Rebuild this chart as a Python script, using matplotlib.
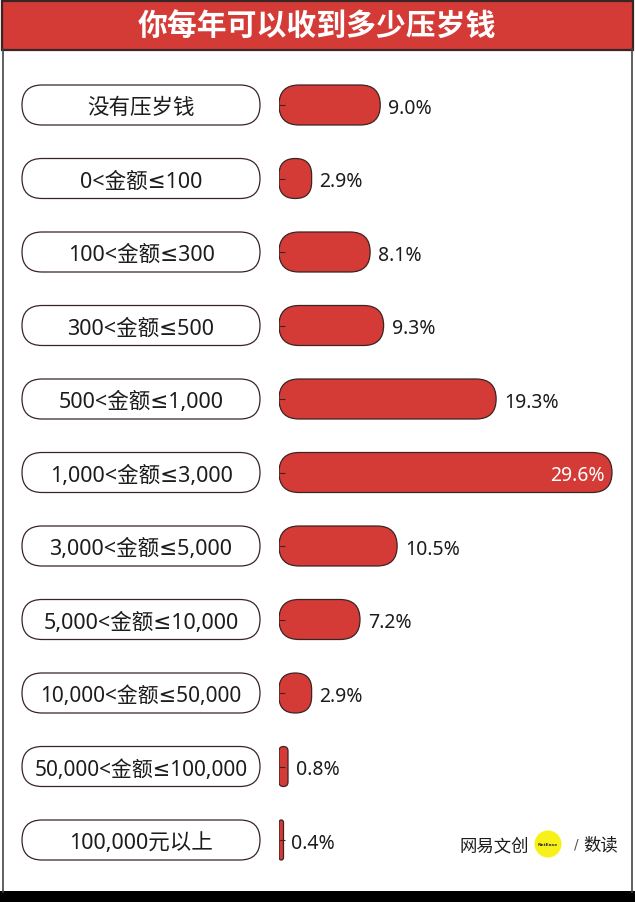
import matplotlib
matplotlib.use('Agg')
import matplotlib.pyplot as plt
from matplotlib.patches import FancyBboxPatch, Rectangle, Circle

plt.rcParams['font.family'] = ['Noto Sans', 'DejaVu Sans', 'Noto Sans CJK SC']

title = "你每年可以收到多少压岁钱"
categories = ["没有压岁钱", "0<金额≤100", "100<金额≤300", "300<金额≤500",
              "500<金额≤1,000", "1,000<金额≤3,000", "3,000<金额≤5,000",
              "5,000<金额≤10,000", "10,000<金额≤50,000", "50,000<金额≤100,000",
              "100,000元以上"]
values = [9.0, 2.9, 8.1, 9.3, 19.3, 29.6, 10.5, 7.2, 2.9, 0.8, 0.4]

RED = "#d43b36"
EDGE = "#3a2424"
TXT = "#1c1c1c"
CJK = ['Noto Sans CJK SC', 'DejaVu Sans']

W, H = 635, 903
fig = plt.figure(figsize=(W / 100, H / 100), dpi=100)
fig.patch.set_facecolor("white")

# background / decoration axes in pixel coordinates
bg = fig.add_axes([0, 0, 1, 1])
bg.set_xlim(0, W)
bg.set_ylim(H, 0)
bg.axis('off')
bg.plot([2.5, 2.5], [50, 893], color="#444444", lw=1.2)
bg.plot([632, 632], [50, 893], color="#444444", lw=1.2)
bg.add_patch(Rectangle((1.5, 1.5), 631, 49.5, facecolor=RED, edgecolor=EDGE, lw=1.6))
bg.add_patch(Rectangle((0, 892), W, 11, facecolor="black", edgecolor="none"))
bg.text(317, 27, title, color="white", fontsize=21.5, fontweight="heavy",
        ha="center", va="center", family=CJK)

# logo
bg.text(494, 846, "网易文创", fontsize=12.5, color=TXT, ha="center", va="center", family=CJK)
bg.add_patch(Circle((548, 845), 13.5, facecolor="#f7f019", edgecolor="none"))
bg.text(548, 845, "NetEase", fontsize=3.2, color="#333333", ha="center", va="center",
        family=["DejaVu Sans"], fontweight="bold")
bg.text(576, 845, "/", fontsize=10, color="#555555", ha="center", va="center",
        family=["DejaVu Sans"])
bg.text(601, 845, "数读", fontsize=12.5, color=TXT, ha="center", va="center", family=CJK)

n = len(categories)
ROW = 73.5
TOP = 106 - ROW / 2
PXPU = 11.25          # pixels per percent
X0 = 279
XMAX = 30

# bars axes
ax = fig.add_axes([X0 / W, 1 - (TOP + n * ROW) / H, XMAX * PXPU / W, n * ROW / H])
ax.set_xlim(0, XMAX)
ax.set_ylim(n - 0.5, -0.5)
ax.set_facecolor("none")
for s in ax.spines.values():
    s.set_visible(False)
ax.set_xticks([])
ax.set_yticks(range(n))
ax.set_yticklabels([])
ax.tick_params(axis='y', direction='in', length=4.5, width=0.8, color=EDGE)

bh = 40 / ROW
aspect = PXPU / ROW
vmax = max(values)
for i, v in enumerate(values):
    wpx = v * PXPU
    r = min(20, wpx / 2)
    ax.add_patch(FancyBboxPatch((0, i - bh / 2), v, bh,
                                boxstyle=f"round,pad=0,rounding_size={r / PXPU}",
                                mutation_aspect=aspect, facecolor=RED,
                                edgecolor=EDGE, lw=0.9, zorder=1))
    if v == vmax:
        ax.text(v - 7 / PXPU, i + 0.04, f"{v:.1f}%", color="white", fontsize=14,
                ha="right", va="center", zorder=3)
    else:
        ax.text(v + 8 / PXPU, i + 0.04, f"{v:.1f}%", color=TXT, fontsize=14,
                ha="left", va="center", zorder=3)

# label pills axes
LX0, LX1 = 22, 260
lw_px = LX1 - LX0
lax = fig.add_axes([LX0 / W, 1 - (TOP + n * ROW) / H, lw_px / W, n * ROW / H])
lax.set_xlim(0, lw_px)
lax.set_ylim(n - 0.5, -0.5)
lax.axis('off')
for i, c in enumerate(categories):
    lax.add_patch(FancyBboxPatch((0, i - bh / 2), lw_px, bh,
                                 boxstyle="round,pad=0,rounding_size=20",
                                 mutation_aspect=1 / ROW, facecolor="white",
                                 edgecolor=EDGE, lw=0.9, clip_on=False))
    fs = 15.5
    if len(c) > 15:
        fs = 15
    lax.text(lw_px / 2, i + 0.035, c, fontsize=fs, color=TXT, ha="center", va="center")

fig.savefig("out.png", dpi=100)
